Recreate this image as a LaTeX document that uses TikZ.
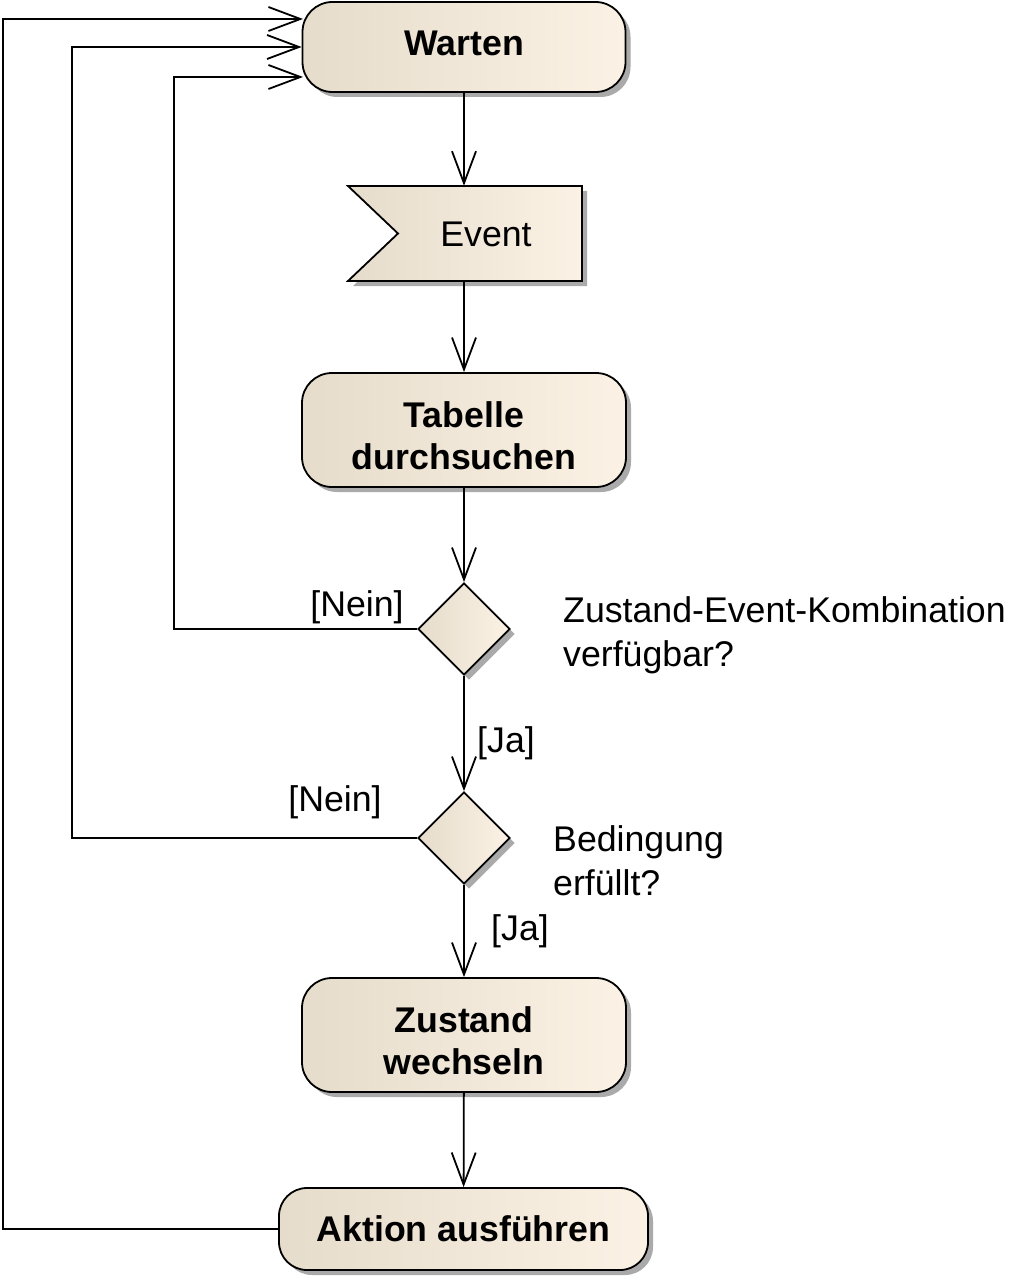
\documentclass[tikz,border=0pt]{standalone}
\usepackage{fontspec}
\setmainfont{Liberation Sans}
\usetikzlibrary{arrows.meta,shapes.geometric,shadows}
\definecolor{fillL}{RGB}{230,220,203}
\definecolor{fillR}{RGB}{251,242,229}
\definecolor{shadowgray}{RGB}{170,170,170}
\begin{document}
\begin{tikzpicture}[x=1pt,y=-1pt,
  txt/.style={inner sep=0pt, font=\fontsize{35.7}{44}\selectfont},
  boxshade/.style={left color=fillL, right color=fillR,
    drop shadow={shadow xshift=5pt, shadow yshift=-5pt, fill=shadowgray, opacity=1}},
  act/.style={draw, line width=1.8pt, rounded corners=30pt, boxshade, inner sep=0pt},
  acttext/.style={align=center, inner sep=0pt, font=\fontsize{35.7}{42}\selectfont\bfseries},
  dec/.style={draw, diamond, line width=1.8pt, boxshade, inner sep=0pt,
    minimum width=92pt, minimum height=92pt},
  conn/.style={line width=1.8pt},
  flow/.style={conn, -{Straight Barb[length=32pt,width=24pt,line width=1.8pt]}}
]
\useasboundingbox (0,0) rectangle (1010,1281);

% activities
\node[act, minimum width=323pt, minimum height=90pt] (warten) at (464,47) {};
\node[act, minimum width=324pt, minimum height=114pt] (tabelle) at (464,430) {};
\node[act, minimum width=324pt, minimum height=114pt] (zustand) at (464,1035) {};
\node[act, minimum width=369pt, minimum height=82pt, rounded corners=28pt] (aktion) at (463.5,1229) {};
\node[acttext] (warten-t) at ([yshift=4pt]warten.center) {Warten};
\node[acttext] (tabelle-t) at ([yshift=-6pt]tabelle.center) {Tabelle\\durchsuchen};
\node[acttext] (zustand-t) at ([yshift=-6pt]zustand.center) {Zustand\\wechseln};
\node[acttext] (aktion-t) at (aktion.center) {Aktion ausführen};

% accept-event flag
\path[draw, line width=1.8pt, boxshade]
  (348,186) -- (582,186) -- (582,281) -- (348,281) -- (398,233.5) -- cycle;
\node[inner sep=0pt, minimum width=234pt, minimum height=95pt] (event) at (464,233.5) {};
\node[txt] (eventtext) at (486,234) {Event};

% decisions
\node[dec] (d1) at (464,629) {};
\node[dec] (d2) at (464,838) {};

% main flow
\draw[flow] (warten) -- (event);
\draw[flow] (event) -- (tabelle);
\draw[flow] (tabelle) -- (d1);
\draw[flow] (d1) -- (d2);
\draw[flow] (d2) -- (zustand);
\draw[flow] (zustand) -- (aktion);

% loops back to Warten
\coordinate (in1) at (303,19);
\coordinate (in3) at (303,77);
\coordinate (b1) at (174,77);
\coordinate (b2) at (72,47);
\coordinate (b3) at (3,19);
\draw[flow] (d1.west) -| (b1) -- (in3);
\draw[flow] (d2.west) -| (b2) -- (warten.west);
\draw[flow] (aktion.west) -| (b3) -- (in1);

% guards and notes
\node[txt] (nein1) at (357,607) {[Nein]};
\node[txt] (nein2) at (335,802) {[Nein]};
\node[txt] (ja1) at (506,743) {[Ja]};
\node[txt] (ja2) at (520,931) {[Ja]};
\node[txt, align=left, anchor=west] (note1) at (563,635) {Zustand-Event-Kombination\\verfügbar?};
\node[txt, align=left, anchor=west] (note2) at (553,861) {Bedingung\\erfüllt?};
\end{tikzpicture}
\end{document}
